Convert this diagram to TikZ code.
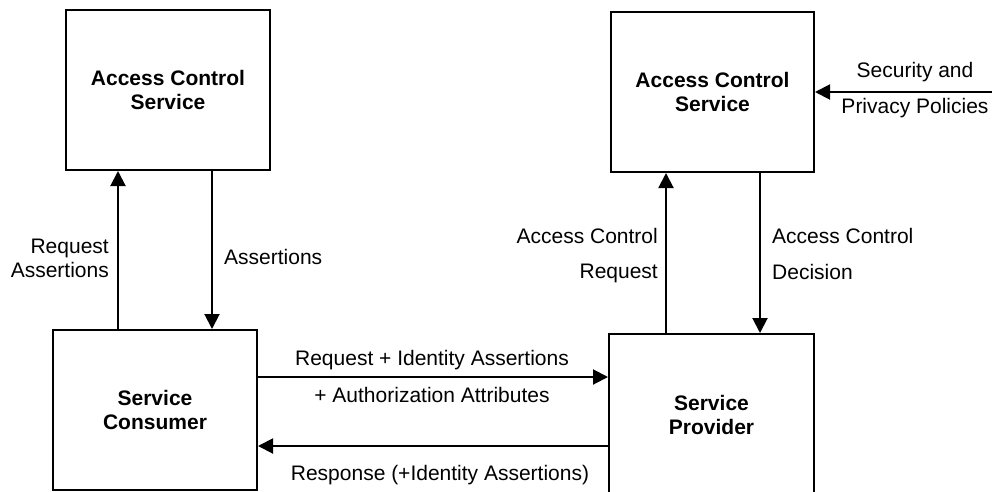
\documentclass[tikz,border=0pt]{standalone}
\usepackage{fontspec}
\setmainfont{Liberation Sans}
\usetikzlibrary{arrows.meta}
\begin{document}
\begin{tikzpicture}[x=1pt,y=-1pt,
  box/.style={draw,line width=2pt,inner sep=0pt,font=\fontsize{21}{24}\selectfont\bfseries,align=center},
  flow/.style={line width=2pt,-{Triangle[length=15pt,width=15pt]}},
  lbl/.style={inner sep=0pt,font=\fontsize{21}{24}\selectfont},
  lblr/.style={lbl,align=right},
  lbll/.style={lbl,align=left}]
\useasboundingbox (0,0) rectangle (992,491);
\clip (0,0) rectangle (992,491);
\node[box,minimum width=204pt,minimum height=160pt] (acs1) at (168,90) {Access Control\\Service};
\node[box,minimum width=203pt,minimum height=160pt] (acs2) at (712.5,92) {Access Control\\Service};
\node[box,minimum width=204pt,minimum height=160pt] (sc) at (155,410) {Service\\Consumer};
\node[box,minimum width=205pt,minimum height=162pt] (sp) at (711.5,415) {Service\\Provider};
\coordinate (pol) at (992,92);
% left vertical arrows
\draw[flow] (sc.north -| 118,0) -- (acs1.south -| 118,0);
\draw[flow] (acs1.south -| 212,0) -- (sc.north -| 212,0);
% right vertical arrows
\draw[flow] (sp.north -| 666,0) -- (acs2.south -| 666,0);
\draw[flow] (acs2.south -| 760,0) -- (sp.north -| 760,0);
% horizontal arrows
\draw[flow] (sc.east |- 0,377) -- (sp.west |- 0,377);
\draw[flow] (sp.west |- 0,446) -- (sc.east |- 0,446);
\draw[flow] (pol) -- (acs2.east |- pol);
% labels
\node[lblr,anchor=east] (l1) at (109,258.5) {Request\\[-0.5pt]Assertions};
\node[lbll,anchor=west] (l2) at (224,257) {Assertions};
\node[lbl,anchor=east] (l3a) at (658,236) {Access Control};
\node[lbl,anchor=east] (l3b) at (658,273) {Request};
\node[lbl,anchor=west] (l4a) at (772,236) {Access Control};
\node[lbl,anchor=west] (l4b) at (772,272) {Decision};
\node[lbl] (l5a) at (432,360) {Request + Identity Assertions};
\node[lbl] (l5b) at (432,395) {+ Authorization Attributes};
\node[lbl] (l6) at (440,475) {Response (+Identity Assertions)};
\node[lbl] (l7a) at (915,72) {Security and};
\node[lbl] (l7b) at (915,108) {Privacy Policies};
\end{tikzpicture}
\end{document}
